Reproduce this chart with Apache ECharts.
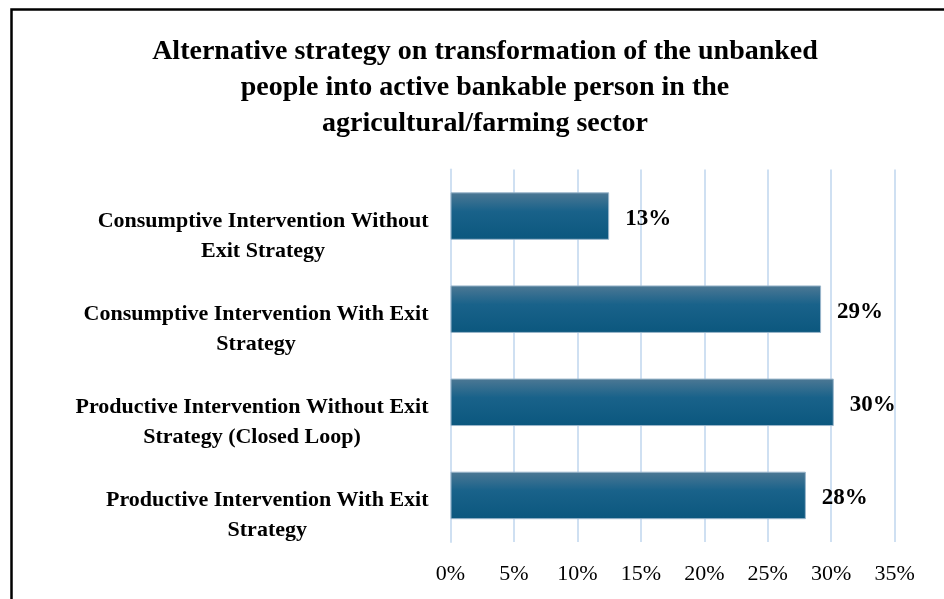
<!DOCTYPE html>
<html>
<head>
<meta charset="utf-8">
<script src="https://cdn.jsdelivr.net/npm/echarts@6/dist/echarts.min.js"></script>
<style>
  html, body { margin: 0; padding: 0; background: #ffffff; }
  #chart { width: 944px; height: 599px; }
</style>
</head>
<body>
<div id="chart"></div>
<script>
// Strategy categories, top to bottom (each label keeps its line break)
const categories = [
  'Consumptive Intervention Without\nExit Strategy',
  'Consumptive Intervention With Exit\nStrategy',
  'Productive Intervention Without Exit\nStrategy (Closed Loop)',
  'Productive Intervention With Exit\nStrategy'
];
// Share of respondents (%)
const shares = [12.5, 29.2, 30.2, 28.0];
// Value axis ticks (%)
const tickValues = [0, 5, 10, 15, 20, 25, 30, 35];

const serif = '"Liberation Serif", "Times New Roman", serif';

const chart = echarts.init(document.getElementById('chart'), null, { renderer: 'canvas' });

chart.setOption({
  animation: false,
  backgroundColor: '#ffffff',
  title: {
    text: 'Alternative strategy on transformation of the unbanked\npeople into active bankable person in the\nagricultural/farming sector',
    left: 480,
    top: 29,
    textAlign: 'center',
    textStyle: {
      fontFamily: serif,
      fontWeight: 'bold',
      fontSize: 28,
      lineHeight: 36,
      color: '#000000'
    }
  },
  graphic: [{
    type: 'rect',
    silent: true,
    shape: { x: 11.5, y: 9.5, width: 1000, height: 700 },
    style: { fill: null, stroke: '#000000', lineWidth: 2.5 }
  }],
  grid: {
    left: 450.5,
    right: 49.3,
    top: 169.5,
    bottom: 57
  },
  xAxis: {
    type: 'value',
    min: tickValues[0],
    max: tickValues[tickValues.length - 1],
    interval: 5,
    axisLine: { show: false },
    axisTick: { show: false },
    splitLine: { show: true, lineStyle: { color: '#cfe0f2', width: 2 } },
    axisLabel: {
      margin: 21,
      fontFamily: serif,
      fontSize: 22,
      color: '#000000',
      formatter: v => v + '%'
    }
  },
  yAxis: {
    type: 'category',
    inverse: true,
    data: categories,
    axisLine: { show: true, lineStyle: { color: '#cfe0f2', width: 2 } },
    axisTick: { show: false },
    axisLabel: {
      margin: 22,
      align: 'right',
      padding: [40, 0, 0, 0],
      formatter: v => v.split('\n').map(s => '{c|' + s + '}').join('\n'),
      rich: {
        c: {
          align: 'center',
          fontFamily: serif,
          fontWeight: 'bold',
          fontSize: 22,
          lineHeight: 30,
          color: '#000000'
        }
      }
    }
  },
  series: [{
    type: 'bar',
    data: shares,
    barCategoryGap: '49%',
    itemStyle: {
      borderColor: '#9ab6cb',
      borderWidth: 1,
      color: new echarts.graphic.LinearGradient(0, 0, 0, 1, [
        { offset: 0, color: '#4d7894' },
        { offset: 0.4, color: '#19628a' },
        { offset: 1, color: '#0b577e' }
      ])
    },
    label: {
      show: true,
      position: 'right',
      distance: 16,
      offset: [0, 3],
      fontFamily: serif,
      fontWeight: 'bold',
      fontSize: 23,
      color: '#000000',
      formatter: p => Math.round(p.value) + '%'
    }
  }]
});
</script>
</body>
</html>
